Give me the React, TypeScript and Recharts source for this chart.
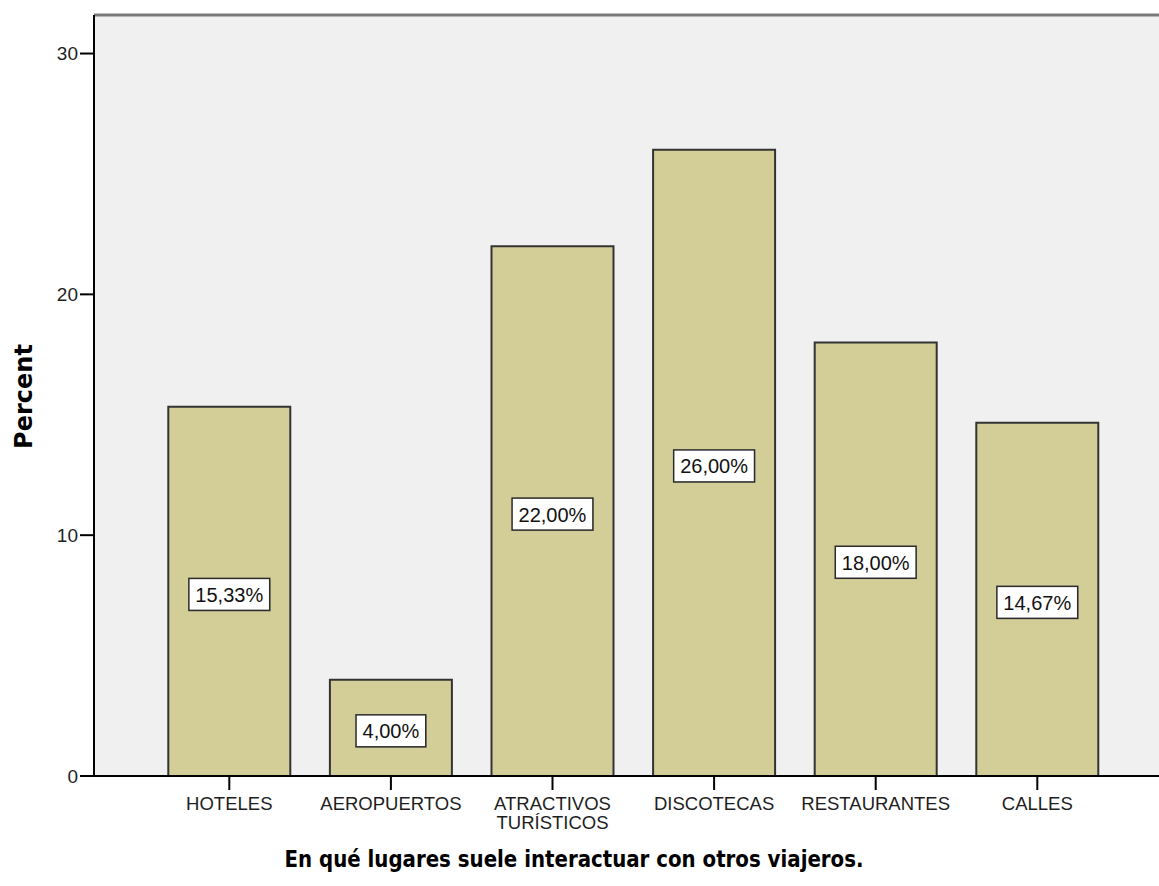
import { BarChart, Bar, XAxis, YAxis, CartesianGrid, ReferenceLine, LabelList, Label } from 'recharts'

const categories = ['HOTELES', 'AEROPUERTOS', 'ATRACTIVOS TURÍSTICOS', 'DISCOTECAS', 'RESTAURANTES', 'CALLES']
const percents = [15.33, 4.0, 22.0, 26.0, 18.0, 14.67]
const yTicks = [0, 10, 20, 30]
const yMax = 31.6

const data = categories.map((name, i) => ({ name, percent: percents[i] }))

const sans = "'Liberation Sans', Arial, sans-serif"
const boldSans = "'DejaVu Sans', Verdana, sans-serif"

const fmt = (v: number) => v.toFixed(2).replace('.', ',') + '%'

function XTick({ x, y, payload }: any) {
  const lines = String(payload.value).split(' ')
  return (
    <text x={x} y={y} textAnchor="middle" fontFamily={sans} fontSize={18.5} fill="#1e1e1e">
      {lines.map((l, i) => (
        <tspan key={i} x={x} dy={i === 0 ? 18 : 19}>{l}</tspan>
      ))}
    </text>
  )
}

function ValueBox(props: any) {
  const { x, y, width, height, value } = props
  const text = fmt(Number(value))
  const tw = [...text].reduce((s, c) => s + (c === ',' ? 5.56 : c === '%' ? 17.8 : 11.12), 0)
  const w = tw + 13
  const h = 32
  const cx = x + width / 2
  const cy = y + height / 2 + 3
  return (
    <g>
      <rect x={cx - w / 2 + 1} y={cy - h / 2 + 1} width={w} height={h} fill="#9a9a8a" opacity={0.5} />
      <rect x={cx - w / 2} y={cy - h / 2} width={w} height={h} fill="#fff" stroke="#2b2b2b" strokeWidth={1.5} />
      <text x={cx} y={cy + 7.5} textAnchor="middle" fontFamily={sans} fontSize={20} fill="#111">{text}</text>
    </g>
  )
}

export default function App() {
  return (
    <div style={{ position: 'absolute', left: 0, top: 0, width: 1159, height: 886, overflow: 'hidden', background: '#fff' }}>
      <BarChart width={1180} height={886} data={data} margin={{ top: 15, right: 7.4, left: 0, bottom: 0 }} barCategoryGap="12.25%">
        <CartesianGrid fill="#F0F0F0" horizontal={false} vertical={false} />
        <XAxis
          dataKey="name"
          interval={0}
          height={110}
          tickSize={14}
          padding={{ left: 54.5, right: 54.5 }}
          axisLine={{ stroke: '#000', strokeWidth: 2 }}
          tickLine={{ stroke: '#000', strokeWidth: 2 }}
          tick={<XTick />}
        >
          <Label
            content={() => (
              <text x={574} y={867} textAnchor="middle" fontFamily={boldSans} fontWeight="bold" fontSize={23} textLength={579} lengthAdjust="spacingAndGlyphs" fill="#000">
                En qué lugares suele interactuar con otros viajeros.
              </text>
            )}
          />
        </XAxis>
        <YAxis
          type="number"
          domain={[0, yMax]}
          ticks={yTicks}
          width={94}
          tickSize={14}
          axisLine={{ stroke: '#000', strokeWidth: 2 }}
          tickLine={{ stroke: '#000', strokeWidth: 2 }}
          tick={{ fontFamily: sans, fontSize: 19, fill: '#1e1e1e' }}
        >
          <Label
            content={() => (
              <text x={32} y={396.5} transform="rotate(-90 32 396.5)" textAnchor="middle" fontFamily={boldSans} fontWeight="bold" fontSize={24} fill="#000">
                Percent
              </text>
            )}
          />
        </YAxis>
        <ReferenceLine y={yMax} stroke="#7a7a7a" strokeWidth={3} ifOverflow="visible" />
        <Bar dataKey="percent" fill="#D3CE97" stroke="#333" strokeWidth={2} isAnimationActive={false}>
          <LabelList dataKey="percent" content={<ValueBox />} />
        </Bar>
      </BarChart>
    </div>
  )
}
